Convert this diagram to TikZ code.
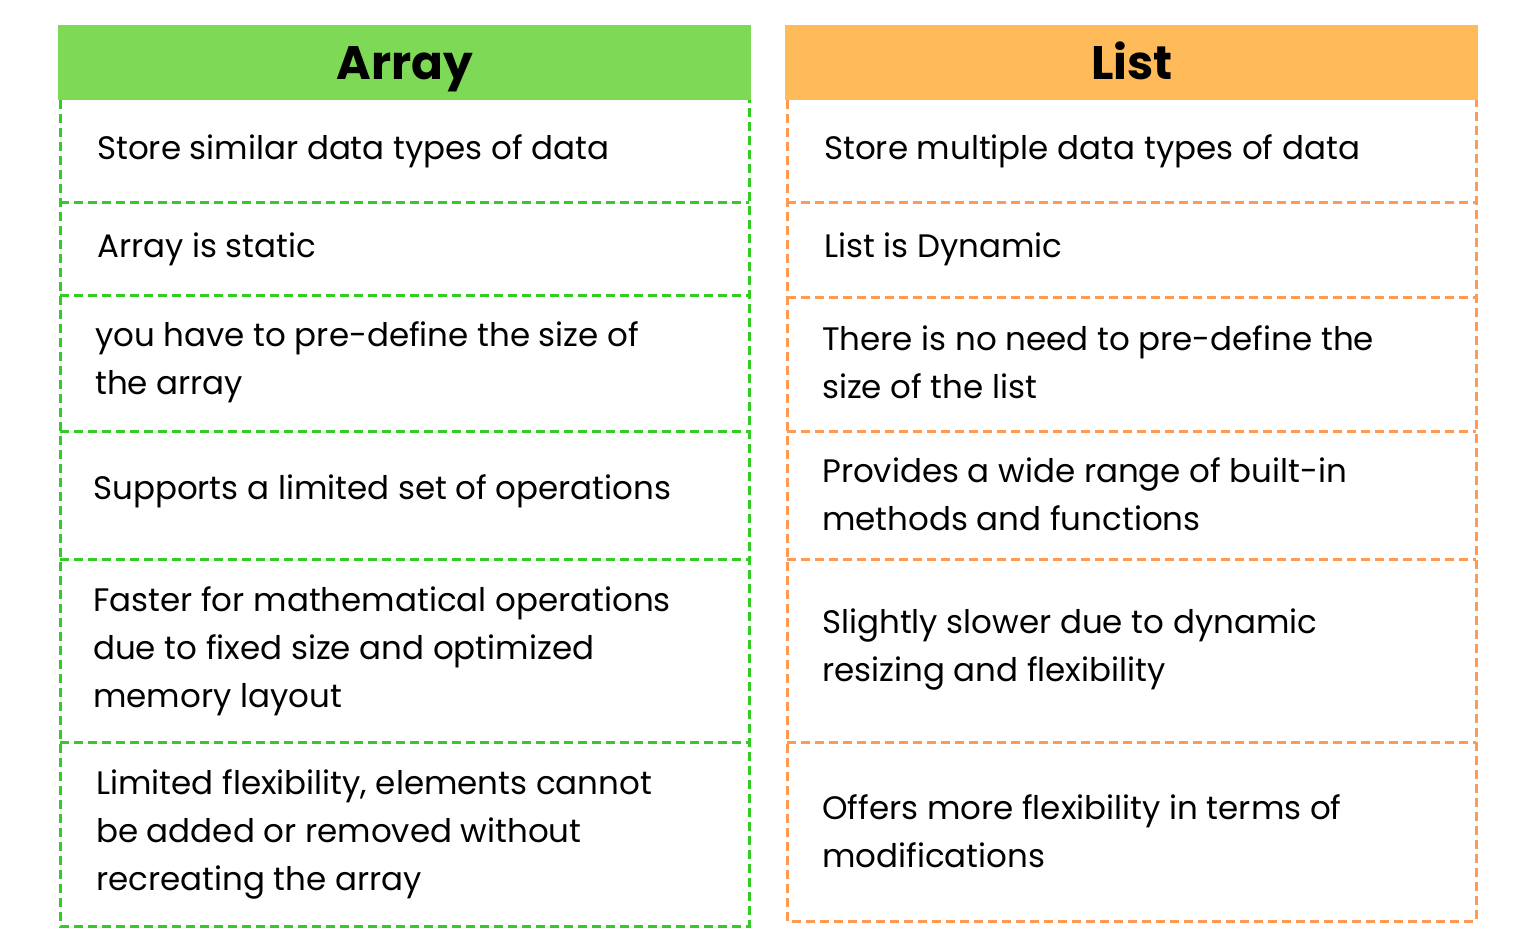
\documentclass[tikz,border=0pt]{standalone}
\usepackage{fontspec}
\setmainfont{Poppins}
\definecolor{ghead}{HTML}{7ED957}
\definecolor{ohead}{HTML}{FFBA5A}
\definecolor{gline}{HTML}{33CC22}
\definecolor{oline}{HTML}{FF9A50}
\tikzset{
 cell/.style={anchor=west,align=left,font=\fontsize{32.5}{48}\selectfont,inner sep=0pt},
 head/.style={anchor=base,font=\fontsize{47}{48}\selectfont\bfseries,inner sep=0pt},
 dl/.style={line width=3pt,dash pattern=on 9pt off 5pt}
}
\begin{document}
\begin{tikzpicture}[x=1pt,y=-1pt]
\useasboundingbox (0,0) rectangle (1536,952);
% Array
\fill[ghead] (58,25) rectangle (751,100);
\node[head] (ah) at (405,80) {Array};
\draw[dl,gline] (60,100) -- (60,926) -- (749,926) -- (749,100);
\foreach \y in {203,295,431,559,742} \draw[dl,gline] (60,\y) -- (749,\y);
\node[cell] (a1) at (97,151) {Store similar data types of data};
\node[cell] (a2) at (97,249) {Array is static};
\node[cell] (a3) at (95,362) {you have to pre-define the size of\\the array};
\node[cell] (a4) at (93,491) {Supports a limited set of operations};
\node[cell] (a5) at (93,651) {Faster for mathematical operations\\due to fixed size and optimized\\memory layout};
\node[cell] (a6) at (96,834) {Limited flexibility, elements cannot\\be added or removed without\\recreating the array};
% List
\fill[ohead] (785,25) rectangle (1478,100);
\node[head] (lh) at (1132,80) {List};
\draw[dl,oline] (787,100) -- (787,921) -- (1476,921) -- (1476,100);
\foreach \y in {203,297,431,559,742} \draw[dl,oline] (787,\y) -- (1476,\y);
\node[cell] (l1) at (824,151) {Store multiple data types of data};
\node[cell] (l2) at (824,249) {List is Dynamic};
\node[cell] (l3) at (822,362) {There is no need to pre-define the\\size of the list};
\node[cell] (l4) at (822,494) {Provides a wide range of built-in\\methods and functions};
\node[cell] (l5) at (822,650) {Slightly slower due to dynamic\\resizing and flexibility};
\node[cell] (l6) at (822,831) {Offers more flexibility in terms of\\modifications};
\end{tikzpicture}
\end{document}
